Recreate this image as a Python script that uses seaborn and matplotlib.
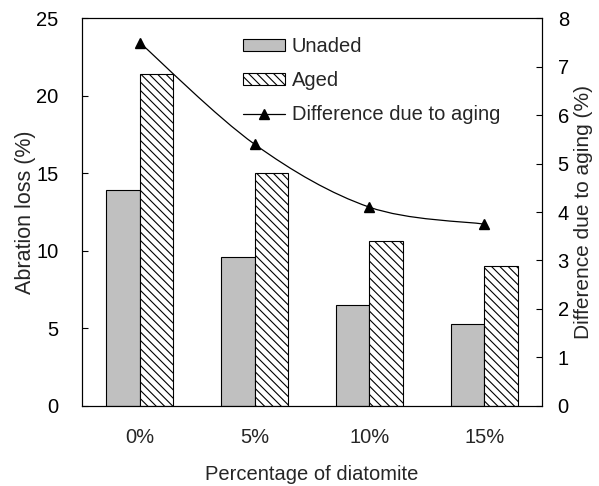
import numpy as np
import pandas as pd
import matplotlib
matplotlib.use("Agg")
import matplotlib.pyplot as plt
from matplotlib.path import Path
from matplotlib.patches import PathPatch, Patch
from matplotlib.lines import Line2D
import seaborn as sns

# Data
categories = ["0%", "5%", "10%", "15%"]
unaged = [13.9, 9.6, 6.5, 5.3]
aged = [21.4, 15.0, 10.6, 9.0]
difference = [7.5, 5.4, 4.1, 3.75]

sns.set_theme(style="white")
plt.rcParams["font.family"] = ["Liberation Sans", "DejaVu Sans"]
plt.rcParams["hatch.linewidth"] = 0.8

FS = 14.5      # tick labels, x label, legend
FS_Y = 15.5    # left axis title
FS_Y2 = 15     # right axis title

df = pd.DataFrame({
    "pct": categories * 2,
    "loss": unaged + aged,
    "cond": ["Unaded"] * 4 + ["Aged"] * 4,
})

fig = plt.figure(figsize=(5.99, 4.86), dpi=100)
ax = fig.add_axes([0.1374, 0.1652, 0.7669, 0.7971])

sns.barplot(data=df, x="pct", y="loss", hue="cond", order=categories,
            hue_order=["Unaded", "Aged"], palette=["#C0C0C0", "white"],
            edgecolor="black", linewidth=0.8, width=0.584, gap=0,
            legend=False, ax=ax)
HATCH = "\\\\\\\\"
for bar in ax.containers[1]:
    bar.set_hatch(HATCH)

ax.set_xlim(-0.5, 3.5)
ax.set_ylim(0, 25)
ax.set_yticks(np.arange(0, 26, 5))
ax.set_xlabel("Percentage of diatomite", fontsize=FS, labelpad=13)
ax.set_ylabel("Abration loss (%)", fontsize=FS_Y, labelpad=0)
ax.tick_params(axis="y", direction="in", length=4, width=0.8, labelsize=FS,
               pad=17, colors="black")
ax.tick_params(axis="x", which="major", length=0, labelsize=FS, pad=16)
ax.set_xticks([0.5, 1.5, 2.5], minor=True)
ax.tick_params(axis="x", which="minor", direction="in", length=4, width=0.8)
for s in ax.spines.values():
    s.set_color("black")
    s.set_linewidth(0.8)

# Secondary axis: difference due to aging, smoothed line through the points
ax2 = ax.twinx()
ax2.set_ylim(0, 8)
ax2.set_yticks(np.arange(0, 9, 1))
ax2.tick_params(axis="y", direction="in", length=4, width=0.8, labelsize=FS,
                pad=11.5, colors="black")
ax2.set_ylabel("Difference due to aging (%)", fontsize=FS_Y2, labelpad=4)
for s in ax2.spines.values():
    s.set_color("black")
    s.set_linewidth(0.8)

xs = np.arange(len(categories), dtype=float)
pts = np.column_stack([xs, difference])
ext = np.vstack([pts[0], pts, pts[-1]])
verts = [tuple(pts[0])]
codes = [Path.MOVETO]
for i in range(len(pts) - 1):
    p0, p1, p2, p3 = ext[i], ext[i + 1], ext[i + 2], ext[i + 3]
    c1 = p1 + (p2 - p0) / 6.0
    c2 = p2 - (p3 - p1) / 6.0
    verts += [tuple(c1), tuple(c2), tuple(p2)]
    codes += [Path.CURVE4] * 3
ax2.add_patch(PathPatch(Path(verts, codes), facecolor="none",
                        edgecolor="black", linewidth=0.9))
ax2.plot(xs, difference, linestyle="none", marker="^", color="black",
         markersize=7.5)

handles = [
    Patch(facecolor="#C0C0C0", edgecolor="black", linewidth=0.8),
    Patch(facecolor="white", edgecolor="black", linewidth=0.8, hatch=HATCH),
    Line2D([], [], color="black", linewidth=0.9, marker="^", markersize=7.5),
]
ax2.legend(handles, ["Unaded", "Aged", "Difference due to aging"],
           loc="upper left", bbox_to_anchor=(0.349, 0.952), frameon=False,
           fontsize=FS, handlelength=2.08, handleheight=0.5,
           handletextpad=0.35, labelspacing=0.75, borderpad=0,
           borderaxespad=0)

fig.savefig("out.png", dpi=100)
